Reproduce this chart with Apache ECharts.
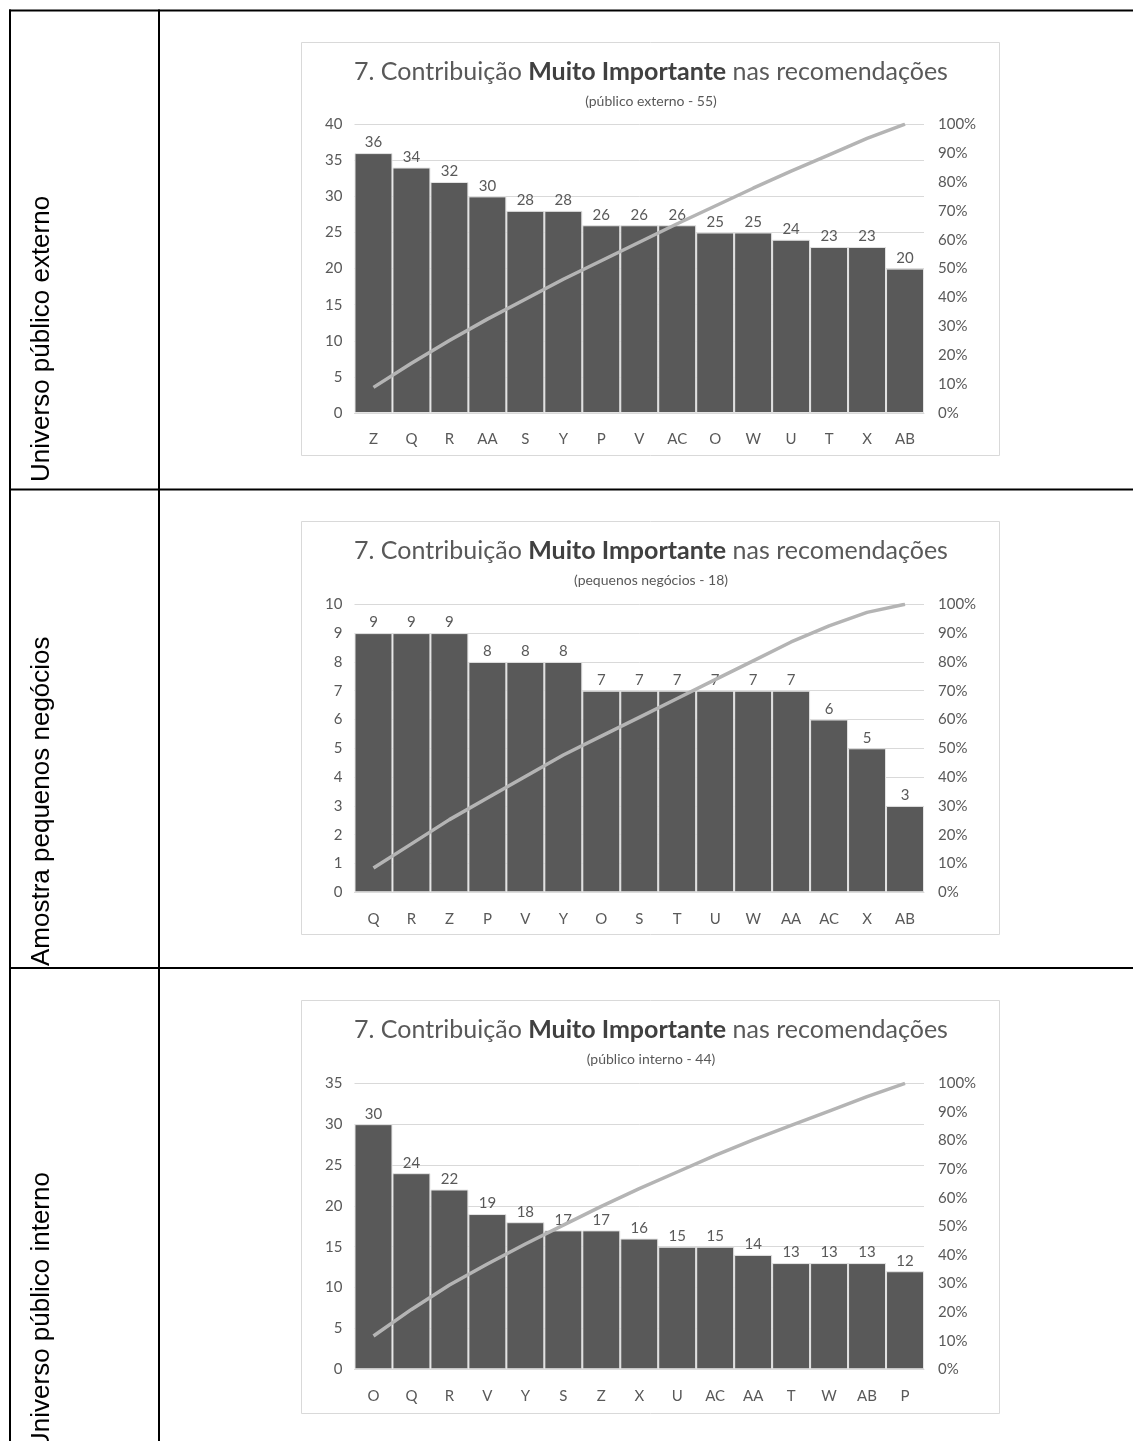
<!DOCTYPE html>
<html>
<head>
<meta charset="utf-8">
<script src="https://cdn.jsdelivr.net/npm/echarts@6/dist/echarts.min.js"></script>
<style>
  html, body { margin: 0; padding: 0; background: #ffffff; }
  #main { width: 1133px; height: 1441px; }
</style>
</head>
<body>
<div id="main"></div>
<script>
// Pareto data per group: categories sorted by count
const categoriesExterno = ['Z', 'Q', 'R', 'AA', 'S', 'Y', 'P', 'V', 'AC', 'O', 'W', 'U', 'T', 'X', 'AB'];
const valuesExterno = [36, 34, 32, 30, 28, 28, 26, 26, 26, 25, 25, 24, 23, 23, 20];

const categoriesPequenos = ['Q', 'R', 'Z', 'P', 'V', 'Y', 'O', 'S', 'T', 'U', 'W', 'AA', 'AC', 'X', 'AB'];
const valuesPequenos = [9, 9, 9, 8, 8, 8, 7, 7, 7, 7, 7, 7, 6, 5, 3];

const categoriesInterno = ['O', 'Q', 'R', 'V', 'Y', 'S', 'Z', 'X', 'U', 'AC', 'AA', 'T', 'W', 'AB', 'P'];
const valuesInterno = [30, 24, 22, 19, 18, 17, 17, 16, 15, 15, 14, 13, 13, 13, 12];

// left (count) axis ranges and steps
const countAxisMax = [40, 10, 35];
const countAxisStep = [5, 1, 5];

const chartTitle = ['7. Contribuição ', 'Muito Importante', ' nas recomendações'];
const subtitles = ['(público externo - 55)', '(pequenos negócios - 18)', '(público interno - 44)'];
const rowLabels = ['Universo público externo', 'Amostra pequenos negócios', 'Universo público interno'];

const FONT = 'Lato, "Open Sans", sans-serif';
const TEXT = '#595959';

// running share of the total, as drawn by a Pareto line
function cumulativeShare(values) {
  const total = values.reduce((a, b) => a + b, 0);
  let run = 0;
  return values.map(v => { run += v; return run / total; });
}

const panels = [
  { cats: categoriesExterno, vals: valuesExterno, boxTop: 42.5, plotTop: 124.2, plotH: 288.8, labelY: 482 },
  { cats: categoriesPequenos, vals: valuesPequenos, boxTop: 521.5, plotTop: 604.3, plotH: 288, labelY: 966 },
  { cats: categoriesInterno, vals: valuesInterno, boxTop: 1000.5, plotTop: 1083.3, plotH: 286, labelY: 1451 }
];

const grids = [], xAxes = [], yAxes = [], series = [], graphics = [];

panels.forEach((p, i) => {
  grids.push({
    left: 354.5, top: p.plotTop, width: 569.5, height: p.plotH,
    containLabel: false, outerBoundsMode: 'none'
  });
  xAxes.push({
    type: 'category', gridIndex: i, data: p.cats,
    axisTick: { show: false },
    axisLine: { lineStyle: { color: '#d9d9d9', width: 1 } },
    axisLabel: { color: TEXT, fontSize: 15, fontFamily: FONT, margin: 19 }
  });
  yAxes.push({
    type: 'value', gridIndex: i, position: 'left',
    min: 0, max: countAxisMax[i], interval: countAxisStep[i],
    axisLine: { show: false }, axisTick: { show: false },
    axisLabel: { color: TEXT, fontSize: 15, fontFamily: FONT, margin: 12 },
    splitLine: { lineStyle: { color: '#d9d9d9', width: 1 } }
  });
  yAxes.push({
    type: 'value', gridIndex: i, position: 'right',
    min: 0, max: 1, interval: 0.1,
    axisLine: { show: false }, axisTick: { show: false },
    axisLabel: {
      color: TEXT, fontSize: 15, fontFamily: FONT, margin: 14,
      formatter: v => Math.round(v * 100) + '%'
    },
    splitLine: { show: false }
  });
  series.push({
    type: 'bar', xAxisIndex: i, yAxisIndex: 2 * i,
    data: p.vals, barCategoryGap: '0%',
    itemStyle: { color: '#595959', borderColor: '#e4e4e4', borderWidth: 1 },
    label: { show: true, position: 'top', distance: 3, color: TEXT, fontSize: 15, fontFamily: FONT },
    z: 2
  });
  series.push({
    type: 'line', xAxisIndex: i, yAxisIndex: 2 * i + 1,
    data: cumulativeShare(p.vals),
    symbol: 'none', smooth: false,
    lineStyle: { color: '#b4b4b4', width: 3.5 },
    z: 3
  });

  // chart frame
  graphics.push({
    type: 'rect', z: -10,
    shape: { x: 301.5, y: p.boxTop, width: 698, height: 413 },
    style: { fill: '#ffffff', stroke: '#d9d9d9', lineWidth: 1 }
  });
  // title with bold middle part
  graphics.push({
    type: 'text', x: 651, y: p.boxTop + 29,
    style: {
      text: '{n|' + chartTitle[0] + '}{b|' + chartTitle[1] + '}{n|' + chartTitle[2] + '}',
      textAlign: 'center', textVerticalAlign: 'middle',
      align: 'center', verticalAlign: 'middle',
      rich: {
        n: { fontSize: 25, fontFamily: FONT, color: TEXT, fill: TEXT },
        b: { fontSize: 25, fontFamily: FONT, fontWeight: 'bold', color: '#404040', fill: '#404040' }
      }
    }
  });
  graphics.push({
    type: 'text', x: 651, y: p.boxTop + 58.5,
    style: {
      text: subtitles[i], font: '14px ' + FONT, fill: TEXT,
      textAlign: 'center', textVerticalAlign: 'middle',
      align: 'center', verticalAlign: 'middle'
    }
  });
  // row caption, reading bottom-to-top
  graphics.push({
    type: 'text', x: 42, y: p.labelY, rotation: Math.PI / 2,
    style: {
      text: rowLabels[i], font: '26px "Liberation Sans", Arial, sans-serif', fill: '#000000',
      textAlign: 'left', textVerticalAlign: 'middle',
      align: 'left', verticalAlign: 'middle'
    }
  });
});

// table rules
const rule = (x1, y1, x2, y2) => ({
  type: 'line', z: 10,
  shape: { x1, y1, x2, y2 },
  style: { stroke: '#000000', lineWidth: 2 }
});
graphics.push(rule(9, 10.5, 1133, 10.5));
graphics.push(rule(10, 9.5, 10, 1441));
graphics.push(rule(159, 9.5, 159, 1441));
graphics.push(rule(9, 489.5, 1133, 489.5));
graphics.push(rule(9, 968, 1133, 968));

const chart = echarts.init(document.getElementById('main'), null, { renderer: 'canvas' });
chart.setOption({
  animation: false,
  backgroundColor: '#ffffff',
  grid: grids,
  xAxis: xAxes,
  yAxis: yAxes,
  series: series,
  graphic: graphics
});
</script>
</body>
</html>
